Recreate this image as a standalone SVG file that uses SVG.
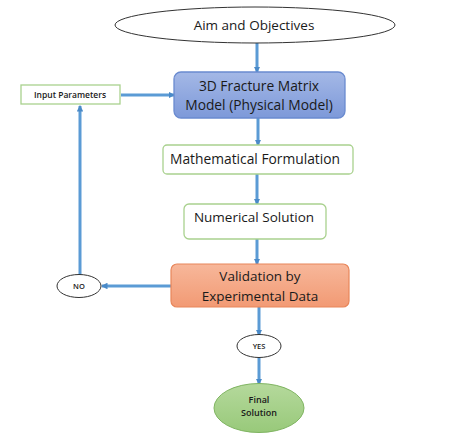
<svg xmlns="http://www.w3.org/2000/svg" width="474" height="446" viewBox="0 0 474 446">
<style>
text{font-family:"Open Sans","Liberation Sans",sans-serif;fill:#1a1a1a;text-anchor:middle}
.s{font-weight:600}
.c{stroke:#5b9bd5;stroke-width:3;fill:none;marker-end:url(#ah)}
.g{fill:#fff;stroke:#a9d18e;stroke-width:1.3}
.e{fill:#fff;stroke:#333;stroke-width:1}
</style>
<defs>
<marker id="ah" viewBox="0 0 6 6" refX="5" refY="3" markerWidth="2.2" markerHeight="2.2" orient="auto" markerUnits="strokeWidth">
<path d="M0,0L6,3L0,6z" fill="#4a8ac8"/>
</marker>
<linearGradient id="blue" x1="0" y1="0" x2="0" y2="1">
<stop offset="0" stop-color="#a4b8e6"/><stop offset="1" stop-color="#7d99d9"/>
</linearGradient>
<linearGradient id="orange" x1="0" y1="0" x2="0" y2="1">
<stop offset="0" stop-color="#f7b79a"/><stop offset="1" stop-color="#f29a74"/>
</linearGradient>
<linearGradient id="green" x1="0" y1="0" x2="0" y2="1">
<stop offset="0" stop-color="#b5d99c"/><stop offset="1" stop-color="#98c97a"/>
</linearGradient>
</defs>
<g id="connectors">
<path class="c" d="M257,43V72"/>
<path class="c" d="M121,95H174"/>
<path class="c" d="M258,118V145"/>
<path class="c" d="M257,174V204"/>
<path class="c" d="M257,239V264"/>
<path class="c" d="M171,286H102"/>
<path class="c" d="M80,275V106"/>
<path class="c" d="M259,307V335"/>
<path class="c" d="M259,358V384"/>
</g>
<g id="aim"><ellipse class="e" cx="255" cy="25" rx="140" ry="18"/><text x="254" y="30" font-size="13.5">Aim and Objectives</text></g>
<g id="input"><rect class="g" x="21" y="85" width="99" height="19"/><text class="s" x="70" y="98" font-size="8.5">Input Parameters</text></g>
<g id="model"><rect x="174" y="72" width="171" height="46" rx="7" fill="url(#blue)" stroke="#6a8bd0" stroke-width="1.3"/><text x="259" y="91" font-size="13.8">3D Fracture Matrix</text><text x="259" y="110" font-size="13.8">Model (Physical Model)</text></g>
<g id="math"><rect class="g" x="163" y="145" width="190" height="29" rx="4"/><text x="255" y="164" font-size="13.8">Mathematical Formulation</text></g>
<g id="numerical"><rect class="g" x="184" y="204" width="142" height="35" rx="5"/><text x="254" y="222" font-size="13.5">Numerical Solution</text></g>
<g id="validation"><rect x="171" y="264" width="178" height="43" rx="6" fill="url(#orange)" stroke="#e8865a" stroke-width="1.2"/><text x="260" y="281" font-size="13.5">Validation by</text><text x="260" y="301" font-size="13.5">Experimental Data</text></g>
<g id="no"><ellipse class="e" cx="79" cy="286" rx="22" ry="11.5"/><text class="s" x="79" y="289" font-size="7.5">NO</text></g>
<g id="yes"><ellipse class="e" cx="259" cy="346" rx="22" ry="11.5"/><text class="s" x="259" y="349" font-size="7.5">YES</text></g>
<g id="final"><ellipse cx="259" cy="408" rx="45" ry="24.5" fill="url(#green)" stroke="#7fb461" stroke-width="1"/><text class="s" x="259" y="403" font-size="9">Final</text><text class="s" x="259" y="416" font-size="9">Solution</text></g>
</svg>
